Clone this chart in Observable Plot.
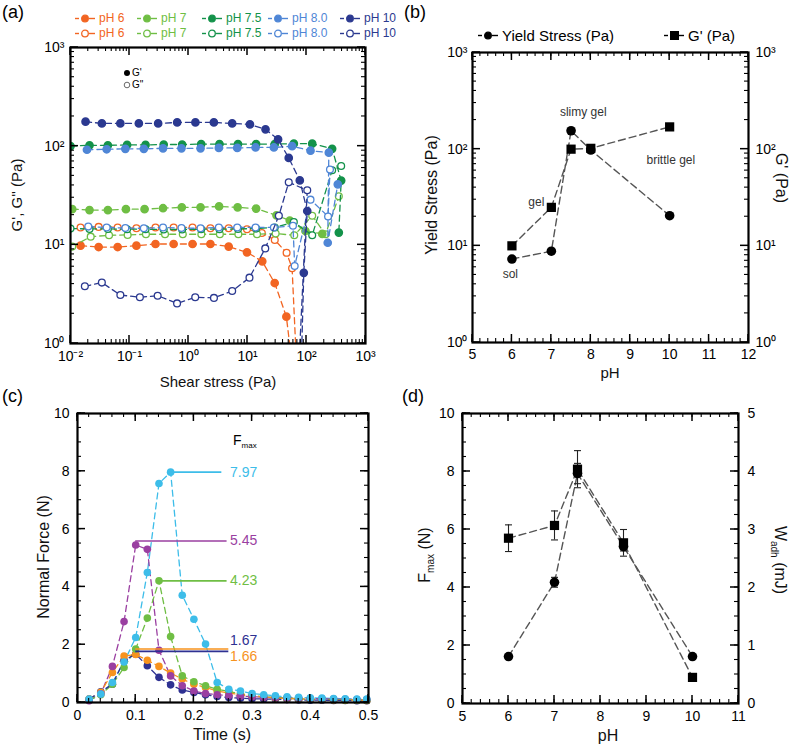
<!DOCTYPE html>
<html><head><meta charset="utf-8">
<script src="https://cdn.jsdelivr.net/npm/d3@7"></script>
<script src="https://cdn.jsdelivr.net/npm/@observablehq/plot@0.6"></script>
<style>
body{margin:0;background:#fff;}
#root{position:relative;width:800px;height:747px;font-family:"Liberation Sans",Arial,sans-serif;overflow:hidden;background:#fff}
.abs{position:absolute;white-space:nowrap;line-height:1}
.panel{position:absolute}
.lab{font-size:15px;color:#111}
.rotL{transform:translate(-50%,-50%) rotate(-90deg)}
.rotR{transform:translate(-50%,-50%) rotate(90deg)}
.ctr{transform:translate(-50%,-50%)}
.leg{font-size:12px;display:flex;align-items:center}
</style></head><body><div id="root"></div>
<script>
// ---------------- Panel (a) data: shear stress (Pa) vs G', G'' (Pa) ----------------
const seriesNames = ["pH 6","pH 7","pH 7.5","pH 8.0","pH 10"];
const seriesColors = ["#f26522","#6fbe44","#13924a","#4f86d6","#2b3990"];

const gp6_x  = [0.0148,0.030,0.063,0.131,0.276,0.56,1.17,2.35,4.8,9.8,17.8,28.9,45.6,62];
const gp6_y  = [9.8,9.5,9.5,9.8,10.2,10.2,10.2,10.2,9.6,8.4,6.8,4.1,1.87,0.4];
const gpp6_x = [0.0148,0.030,0.063,0.131,0.276,0.56,1.17,2.35,4.8,9.8,17.5,29,46,57,70];
const gpp6_y = [15.0,15.2,15.0,14.7,15.0,15.0,15.0,14.7,14.7,14.4,13.2,11.2,8.3,5.8,0.4];

const gp7_x  = [0.0107,0.021,0.043,0.087,0.18,0.37,0.77,1.6,3.3,6.8,14,31,52,96,185];
const gp7_y  = [23,22.5,22.5,23,23,23.5,24,24,24.5,24,23.3,19.9,17.6,13.8,12.9];
const gpp7_x = [0.0107,0.022,0.045,0.093,0.19,0.4,0.8,1.65,3.4,7,14.5,30,62,125,210,353];
const gpp7_y = [9.6,12.1,12.5,12.6,12.8,12.8,12.8,12.8,12.8,12.8,12.8,13,12.5,19.7,12.8,31];

const gp75_x  = [0.01,0.021,0.043,0.091,0.187,0.38,0.78,1.64,3.35,6.9,14,29,61,125,272,387,353];
const gp75_y  = [100,102,102,103,103,104,104,105,105,105,105,105,106,106,94,44.8,13.3];
const gpp75_x = [0.01,0.021,0.043,0.091,0.187,0.38,0.78,1.64,3.35,6.9,14,29,61,125,272,387];
const gpp75_y = [14.6,14.5,14.5,14.4,14.4,14.3,14.3,14.4,14.4,14.5,14.6,15,17,12.5,57,63];

const gp8_x  = [0.019,0.041,0.085,0.175,0.37,0.76,1.6,3.27,6.7,13.7,28,57,117,239,229,339];
const gp8_y  = [92,93,94,94,95,95,95,96,96,97,97,100,90,86,10.5,41];
const gpp8_x = [0.02,0.041,0.085,0.175,0.37,0.76,1.6,3.27,6.7,13.7,28,59,63,117,232,250];
const gpp8_y = [15.3,15,14.8,14.7,15,14.8,14.7,15,15,15,15,15.6,6.1,28.7,19.4,58];

const gp10_x  = [0.018,0.034,0.070,0.144,0.306,0.643,1.31,2.69,5.5,11.0,20.2,33,50,77,103,90,80];
const gp10_y  = [177,170,170,170,170,174,174,174,170,166,148,117,76,45,22,5.2,0.4];
const gpp10_x = [0.0175,0.034,0.07,0.15,0.30,0.64,1.3,2.7,5.5,10.8,20,34,50,103,72];
const gpp10_y = [3.8,4.14,3.1,2.94,3.05,2.55,2.94,2.9,3.4,4.65,9.2,19.7,43,35.7,0.4];

// ---------------- Panel (b) data ----------------
const phB = [6,7,7.5,8,10];
const yieldStress = [7.3,8.8,155,98,20.5];
const gPrimeB = [10,25,100,102,170];
const stateLabels = ["sol","gel","slimy gel","brittle gel"];
const stateLabelPH = [5.96,6.62,7.81,10.03];
const stateLabelY = [5.06,28.3,241,77.6];

// ---------------- Panel (c) data: normal force vs time ----------------
const timeC = [0.02,0.04,0.06,0.08,0.10,0.12,0.14,0.16,0.18,0.20,0.22,0.24,0.26,0.28,0.30,0.32,0.34,0.36,0.38,0.40,0.42,0.44,0.46,0.48,0.497];
const forceLightBlue = [0.12,0.29,0.69,1.4,2.25,4.5,7.58,7.97,3.71,2.88,2.02,0.69,0.46,0.40,0.31,0.27,0.23,0.2,0.18,0.16,0.15,0.14,0.13,0.12,0.12];
const forcePurple    = [0.06,0.3,1.25,2.8,5.45,5.3,1.81,0.92,0.58,0.4,0.31,0.27,0.24,0.22,0.2,0.18,0.17,0.16,0.15,0.14,0.13,0.12,0.11,0.1,0.1];
const forceGreen     = [0.08,0.27,0.63,1.21,1.85,2.92,4.21,2.28,0.92,0.72,0.58,0.46,0.38,0.3,0.25,0.2,0.17,0.15,0.13,0.12,0.11,0.1,0.09,0.08,0.08];
const forceOrange    = [0.12,0.35,1.04,1.61,1.66,1.46,1.25,1.02,0.81,0.63,0.52,0.4,0.33,0.27,0.22,0.19,0.16,0.14,0.12,0.11,0.1,0.09,0.08,0.08,0.07];
const forceDarkBlue  = [0.12,0.37,0.63,1.46,1.67,1.27,0.87,0.61,0.43,0.35,0.27,0.21,0.17,0.15,0.13,0.12,0.11,0.1,0.09,0.08,0.08,0.07,0.07,0.06,0.06];
const forceColors = ["#3dbde9","#9a3fa1","#6fbe44","#f7931e","#2e3192"];
const fmaxLabels = ["7.97","5.45","4.23","1.67","1.66"];
const fmaxLineStart = [0.155,0.10,0.14,0.10,0.10];
const fmaxLineEnd = [0.248,0.257,0.257,0.26,0.26];
const fmaxLineLevel = [7.97,5.59,4.21,1.85,1.77];
const fmaxLabelY = [7.97,5.59,4.21,2.16,1.58];
const fmaxLabelColors = ["#3dbde9","#9a3fa1","#6fbe44","#2e3192","#f7931e"];

// ---------------- Panel (d) data ----------------
const phD = [6,7,7.5,8.5,10];
const fmaxD = [1.62,4.18,7.93,5.41,1.62];
const fmaxErrD = [0,0.17,0.35,0.15,0];
const wadhD = [2.85,3.07,4.04,2.77,0.45];      // mJ
const wadhErrD = [0.23,0.25,0.32,0.23,0];

// ---------------- helpers ----------------
const root = document.getElementById("root");
const FONT = "'Liberation Sans', Arial, sans-serif";
const supMap = {"-":"⁻","0":"⁰","1":"¹","2":"²","3":"³","4":"⁴","5":"⁵","6":"⁶","7":"⁷","8":"⁸","9":"⁹"};
const pow10 = d => "10" + String(Math.round(Math.log10(d))).split("").map(c => supMap[c]).join("");
const logMinor = (a, b) => { const out = []; for (let e = a; e < b; e++) for (let k = 2; k <= 9; k++) out.push(k * 10 ** e); return out; };
const decades = (a, b) => d3.range(a, b + 1).map(e => 10 ** e);
const capSymbol = {draw(ctx) { ctx.moveTo(-3.5, 0); ctx.lineTo(3.5, 0); }};

function labelAxes({xMaj, yMaj, xFmt, yFmt, yRightFmt, fs = 14, xPad = 7, yPad = 6, yRightPad = 6}) {
  const m = [];
  m.push(Plot.axisX({anchor: "bottom", ticks: xMaj, tickSize: 0, tickPadding: xPad, tickFormat: xFmt, label: null, fontSize: fs}));
  m.push(Plot.axisY({anchor: "left", ticks: yMaj, tickSize: 0, tickPadding: yPad, tickFormat: yFmt, label: null, fontSize: fs}));
  if (yRightFmt) m.push(Plot.axisY({anchor: "right", ticks: yMaj, tickSize: 0, tickPadding: yRightPad, tickFormat: yRightFmt, label: null, fontSize: fs}));
  m.push(Plot.frame({stroke: "#000", strokeWidth: 2.2}));
  return m;
}
// inward ticks on all four frame sides, positioned with the plot's own x/y scales
function addFrameTicks(svg, {xMaj, xMin, yMaj, yMin}) {
  const sx = svg.scale("x"), sy = svg.scale("y");
  const xl = Math.min(...sx.range), xr = Math.max(...sx.range);
  const yb = Math.max(...sy.range), yt = Math.min(...sy.range);
  const g = d3.select(svg).append("g").attr("stroke", "#000").attr("fill", "none");
  for (const [ticks, len, sw] of [[xMin, 4, 1.1], [xMaj, 8, 1.5]]) {
    for (const t of ticks) {
      const x = sx.apply(t);
      g.append("line").attr("x1", x).attr("x2", x).attr("y1", yb).attr("y2", yb - len).attr("stroke-width", sw);
      g.append("line").attr("x1", x).attr("x2", x).attr("y1", yt).attr("y2", yt + len).attr("stroke-width", sw);
    }
  }
  for (const [ticks, len, sw] of [[yMin, 4, 1.1], [yMaj, 8, 1.5]]) {
    for (const t of ticks) {
      const y = sy.apply(t);
      g.append("line").attr("y1", y).attr("y2", y).attr("x1", xl).attr("x2", xl + len).attr("stroke-width", sw);
      g.append("line").attr("y1", y).attr("y2", y).attr("x1", xr).attr("x2", xr - len).attr("stroke-width", sw);
    }
  }
}

function place(node, left, top) {
  const wrap = document.createElement("div");
  wrap.className = "panel";
  wrap.style.left = left + "px"; wrap.style.top = top + "px";
  wrap.appendChild(node);
  root.appendChild(wrap);
}
function txt(html, x, y, cls, style = "") {
  const d = document.createElement("div");
  d.className = "abs " + cls;
  d.style.left = x + "px"; d.style.top = y + "px";
  d.style.cssText += style;
  d.innerHTML = html;
  root.appendChild(d);
  return d;
}
function legendSym(color, open, shape = "circle") {
  const mark = shape === "square"
    ? `<rect x="6" y="1" width="9" height="9" fill="${color}"/>`
    : `<circle cx="10" cy="5.5" r="3.3" fill="${open ? "#fff" : color}" stroke="${color}" stroke-width="1.3"/>`;
  return `<svg width="21" height="11" style="margin-right:3px"><line x1="0" x2="4" y1="5.5" y2="5.5" stroke="${color}" stroke-width="1.4"/><line x1="14" x2="20" y1="5.5" y2="5.5" stroke="${color}" stroke-width="1.4"/>${mark}</svg>`;
}

// ---------------- Panel (a) ----------------
const aSeries = [
  [gp6_x, gp6_y, gpp6_x, gpp6_y],
  [gp7_x, gp7_y, gpp7_x, gpp7_y],
  [gp75_x, gp75_y, gpp75_x, gpp75_y],
  [gp8_x, gp8_y, gpp8_x, gpp8_y],
  [gp10_x, gp10_y, gpp10_x, gpp10_y]
];
const aMarks = [];
aSeries.forEach(([gx, gy, hx, hy], i) => {
  const col = seriesColors[i];
  const gp = gx.map((x, j) => ({x, y: gy[j]}));
  const gpp = hx.map((x, j) => ({x, y: hy[j]}));
  aMarks.push(Plot.line(gpp, {x: "x", y: "y", stroke: col, strokeWidth: 1.3, strokeDasharray: "6,4", clip: true}));
  aMarks.push(Plot.line(gp, {x: "x", y: "y", stroke: col, strokeWidth: 1.3, strokeDasharray: "6,4", clip: true}));
  aMarks.push(Plot.dot(gpp, {x: "x", y: "y", r: 3.4, fill: "#fff", stroke: col, strokeWidth: 1.3, clip: true}));
  aMarks.push(Plot.dot(gp, {x: "x", y: "y", r: 3.6, fill: col, stroke: col, clip: true}));
});
const ticksA = {xMaj: decades(-2, 3), xMin: logMinor(-2, 3), yMaj: decades(0, 3), yMin: logMinor(0, 3)};
const plotA = Plot.plot({
  width: 400, height: 395,
  marginLeft: 70, marginRight: 35, marginTop: 47, marginBottom: 52,
  style: {fontFamily: FONT, fontSize: "14px", color: "#000", background: "transparent"},
  x: {type: "log", domain: [0.01, 1000]},
  y: {type: "log", domain: [1, 1000]},
  marks: [
    ...aMarks,
    ...labelAxes({xMaj: ticksA.xMaj, yMaj: ticksA.yMaj, xFmt: pow10, yFmt: pow10, fs: 14, xPad: 8, yPad: 6})
  ]
});
addFrameTicks(plotA, ticksA);
place(plotA, 0, 0);

// legend (a)
const legA = [58, 120, 185, 251, 323];
[false, true].forEach((open, row) => {
  seriesNames.forEach((n, i) => {
    txt(legendSym(seriesColors[i], open) + `<span style="color:${seriesColors[i]}">${n}</span>`, legA[i] + 17, 12 + row * 15, "leg");
  });
});
txt(`<svg width="8" height="8"><circle cx="4" cy="4" r="3" fill="#000"/></svg> G'`, 123, 68, "", "font-size:10px;display:flex;align-items:center;gap:1px");
txt(`<svg width="8" height="8"><circle cx="4" cy="4" r="2.8" fill="#fff" stroke="#444" stroke-width="0.8"/></svg> G"`, 123, 80, "", "font-size:10px;display:flex;align-items:center;gap:1px");
txt("G', G'' (Pa)", 16, 195, "lab rotL", "font-size:15px");
txt("Shear stress (Pa)", 218, 381, "lab ctr", "font-size:15px");
txt("(a)", 2, 3, "", "font-size:18px");

// ---------------- Panel (b) ----------------
const bYield = phB.map((p, i) => ({p, v: yieldStress[i]}));
const bG = phB.map((p, i) => ({p, v: gPrimeB[i]}));
const bLabels = stateLabels.map((t, i) => ({t, p: stateLabelPH[i], v: stateLabelY[i]}));
const ticksB = {xMaj: d3.range(5, 13), xMin: d3.range(5, 12.01, 0.2), yMaj: decades(0, 3), yMin: logMinor(0, 3)};
const plotB = Plot.plot({
  width: 400, height: 390,
  marginLeft: 72, marginRight: 52, marginTop: 52, marginBottom: 48,
  style: {fontFamily: FONT, fontSize: "14px", color: "#000", background: "transparent"},
  x: {domain: [5, 12]},
  y: {type: "log", domain: [1, 1000]},
  marks: [
    Plot.line(bYield, {x: "p", y: "v", stroke: "#555", strokeWidth: 1.4, strokeDasharray: "7,4"}),
    Plot.line(bG, {x: "p", y: "v", stroke: "#555", strokeWidth: 1.4, strokeDasharray: "7,4"}),
    Plot.dot(bYield, {x: "p", y: "v", r: 4.8, fill: "#000"}),
    Plot.dot(bG, {x: "p", y: "v", r: 5.2, symbol: "square", fill: "#000"}),
    Plot.text(bLabels, {x: "p", y: "v", text: "t", fontSize: 12, fill: "#333"}),
    ...labelAxes({xMaj: ticksB.xMaj, yMaj: ticksB.yMaj, xFmt: d => String(d), yFmt: pow10, yRightFmt: pow10, fs: 14, xPad: 7, yPad: 5, yRightPad: 7})
  ]
});
addFrameTicks(plotB, ticksB);
place(plotB, 400, 0);
txt(legendSym("#000", false) + "Yield Stress (Pa)", 478, 28, "", "font-size:15px;display:flex;align-items:center");
txt(legendSym("#000", false, "square") + "G' (Pa)", 664, 28, "", "font-size:15px;display:flex;align-items:center");
txt("Yield Stress (Pa)", 432, 195, "lab rotL", "font-size:16px");
txt("G' (Pa)", 781, 178, "lab rotR", "font-size:16px");
txt("pH", 610, 372, "lab ctr", "font-size:15px");
txt("(b)", 404, 3, "", "font-size:18px");

// ---------------- Panel (c) ----------------
const forceSeries = [forceLightBlue, forcePurple, forceGreen, forceOrange, forceDarkBlue];
const cMarks = [];
forceSeries.forEach((s, i) => {
  const d = timeC.map((t, j) => ({t, f: s[j]}));
  cMarks.push(Plot.line(d, {x: "t", y: "f", stroke: forceColors[i], strokeWidth: 1.3, strokeDasharray: "6,4"}));
});
forceSeries.slice().reverse().forEach((s, k) => {
  const i = forceSeries.length - 1 - k;
  const d = timeC.map((t, j) => ({t, f: s[j]}));
  cMarks.push(Plot.dot(d, {x: "t", y: "f", r: 3.8, fill: forceColors[i]}));
});
const fLines = fmaxLabels.map((l, i) => ({x1: fmaxLineStart[i], x2: fmaxLineEnd[i], y: fmaxLineLevel[i], c: forceColors[i]}));
const fLabs = fmaxLabels.map((l, i) => ({l, y: fmaxLabelY[i], c: fmaxLabelColors[i]}));
const ticksC = {xMaj: d3.range(0, 0.51, 0.1), xMin: d3.range(0, 0.501, 0.02), yMaj: d3.range(0, 11, 2), yMin: d3.range(0, 10.01, 0.5)};
const plotC = Plot.plot({
  width: 400, height: 372,
  marginLeft: 77, marginRight: 32, marginTop: 38, marginBottom: 45,
  style: {fontFamily: FONT, fontSize: "14px", color: "#000", background: "transparent"},
  x: {domain: [0, 0.5]},
  y: {domain: [0, 10]},
  marks: [
    ...cMarks,
    Plot.ruleY(fLines, {x1: "x1", x2: "x2", y: "y", stroke: "c", strokeWidth: 1.6}),
    Plot.text(fLabs, {x: 0.262, y: "y", text: "l", fill: "c", textAnchor: "start", fontSize: 14}),
    ...labelAxes({xMaj: ticksC.xMaj, yMaj: ticksC.yMaj, xFmt: d => d === 0 ? "0" : d3.format(".1f")(d), yFmt: d => String(Math.round(d)), fs: 14, xPad: 8, yPad: 8})
  ]
});
addFrameTicks(plotC, ticksC);
place(plotC, 0, 375);
txt(`F<sub style="font-size:8px;vertical-align:-3px">max</sub>`, 233, 433, "", "font-size:14px");
txt("Normal Force (N)", 44, 557, "lab rotL", "font-size:16px");
txt("Time (s)", 222, 735, "lab ctr", "font-size:16px");
txt("(c)", 2, 387, "", "font-size:18px");

// ---------------- Panel (d) ----------------
const dF = phD.map((p, i) => ({p, v: fmaxD[i], lo: fmaxD[i] - fmaxErrD[i], hi: fmaxD[i] + fmaxErrD[i]}));
const dW = phD.map((p, i) => ({p, v: wadhD[i] * 2, lo: (wadhD[i] - wadhErrD[i]) * 2, hi: (wadhD[i] + wadhErrD[i]) * 2}));
const errF = dF.filter(d => d.hi > d.lo);
const errW = dW.filter(d => d.hi > d.lo);
const ticksD = {xMaj: d3.range(5, 12), xMin: d3.range(5, 11.01, 0.2), yMaj: d3.range(0, 11, 2), yMin: d3.range(0, 10.01, 0.5)};
const plotD = Plot.plot({
  width: 400, height: 372,
  marginLeft: 62, marginRight: 62, marginTop: 38, marginBottom: 44,
  style: {fontFamily: FONT, fontSize: "14px", color: "#000", background: "transparent"},
  x: {domain: [5, 11]},
  y: {domain: [0, 10]},
  marks: [
    Plot.line(dF, {x: "p", y: "v", stroke: "#555", strokeWidth: 1.4, strokeDasharray: "7,4"}),
    Plot.line(dW, {x: "p", y: "v", stroke: "#555", strokeWidth: 1.4, strokeDasharray: "7,4"}),
    Plot.ruleX(errW, {x: "p", y1: "lo", y2: "hi", stroke: "#222", strokeWidth: 1.1}),
    Plot.dot(errW, {x: "p", y: "lo", symbol: capSymbol, fill: "none", stroke: "#222", strokeWidth: 1.1}),
    Plot.dot(errW, {x: "p", y: "hi", symbol: capSymbol, fill: "none", stroke: "#222", strokeWidth: 1.1}),
    Plot.ruleX(errF, {x: "p", y1: "lo", y2: "hi", stroke: "#222", strokeWidth: 1.1}),
    Plot.dot(errF, {x: "p", y: "lo", symbol: capSymbol, fill: "none", stroke: "#222", strokeWidth: 1.1}),
    Plot.dot(errF, {x: "p", y: "hi", symbol: capSymbol, fill: "none", stroke: "#222", strokeWidth: 1.1}),
    Plot.dot(dF, {x: "p", y: "v", r: 4.8, fill: "#000"}),
    Plot.dot(dW, {x: "p", y: "v", r: 5.2, symbol: "square", fill: "#000"}),
    ...labelAxes({xMaj: ticksD.xMaj, yMaj: ticksD.yMaj, xFmt: d => String(d), yFmt: d => String(Math.round(d)), yRightFmt: d => String(Math.round(d / 2)), fs: 14, xPad: 8, yPad: 8, yRightPad: 9})
  ]
});
addFrameTicks(plotD, ticksD);
place(plotD, 400, 375);
txt(`F<sub style="font-size:10px;vertical-align:-4px">max</sub> (N)`, 426, 555, "lab rotL", "font-size:16px");
txt(`W<sub style="font-size:10px;vertical-align:-4px">adh</sub> (mJ)`, 778, 560, "lab rotR", "font-size:16px");
txt("pH", 608, 736, "lab ctr", "font-size:16px");
txt("(d)", 402, 387, "", "font-size:18px");
</script></body></html>
